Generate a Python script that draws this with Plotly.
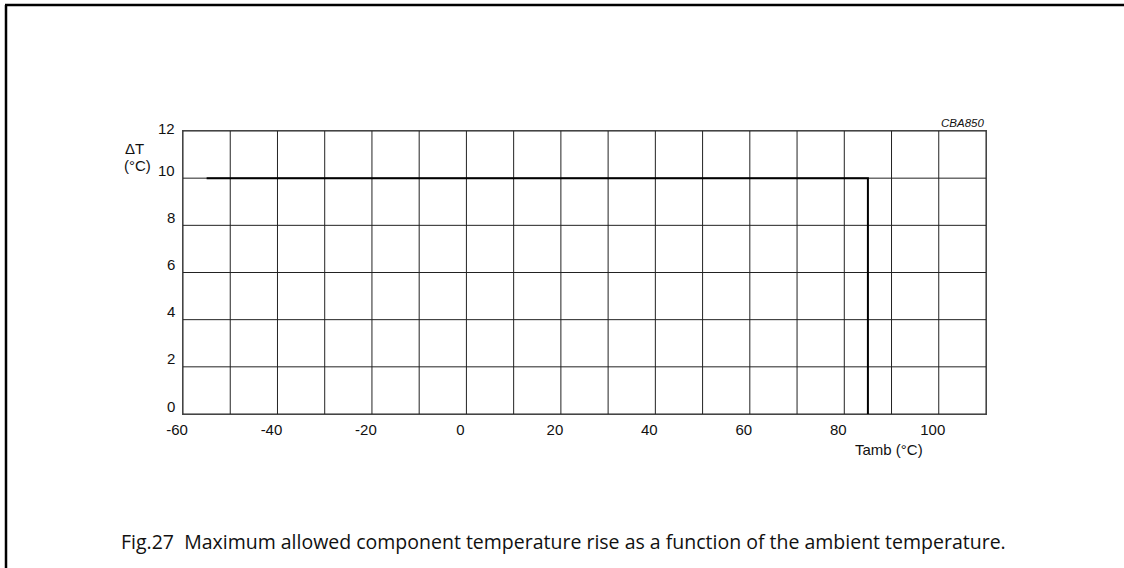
import plotly.graph_objects as go

temp_x = [-55, 85, 85]
rise_y = [10, 10, 0]
x_ticks = [-60, -40, -20, 0, 20, 40, 60, 80, 100]
y_ticks = [0, 2, 4, 6, 8, 10, 12]
x_grid = list(range(-60, 111, 10))

fig = go.Figure()
fig.add_trace(go.Scatter(x=temp_x, y=rise_y, mode="lines",
                         line=dict(color="black", width=2), showlegend=False,
                         hoverinfo="skip"))

axis_font = dict(family="Liberation Sans, Arial, sans-serif", size=15, color="#111")

fig.update_layout(
    width=1124, height=568,
    margin=dict(l=183, r=138, t=131, b=154),
    paper_bgcolor="white", plot_bgcolor="white",
    font=axis_font,
    xaxis=dict(range=[-60, 110], tickvals=x_ticks, ticktext=[str(v) for v in x_ticks],
               showgrid=False, zeroline=False, showline=True, linecolor="#444", linewidth=1,
               mirror=True, ticks="", tickfont=axis_font, tickangle=0, ticklabelshift=-6,
               ticklabelstandoff=2, fixedrange=True),
    yaxis=dict(range=[0, 12], tickvals=y_ticks, showticklabels=False,
               showgrid=False, zeroline=False, showline=True, linecolor="#444", linewidth=1,
               mirror=True, ticks="", fixedrange=True),
)

W, H = 803, 283
def px(xp):
    return (xp - 183) / W
def py(yp):
    return (414 - yp) / H

shapes = []
for gx in x_grid:
    shapes.append(dict(type="line", xref="x", yref="y", x0=gx, x1=gx, y0=0, y1=12,
                       line=dict(color="#222", width=1), layer="below"))
for gy in y_ticks:
    shapes.append(dict(type="line", xref="x", yref="y", x0=-60, x1=110, y0=gy, y1=gy,
                       line=dict(color="#222", width=1), layer="below"))
# page frame (left and top edges)
shapes.append(dict(type="line", xref="paper", yref="paper", x0=px(6), x1=px(6), y0=py(568), y1=py(5),
                   line=dict(color="black", width=2.5)))
shapes.append(dict(type="line", xref="paper", yref="paper", x0=px(5), x1=px(1124), y0=py(5), y1=py(5),
                   line=dict(color="black", width=2.5)))
fig.update_layout(shapes=shapes)

# y tick labels (placed just above each gridline, right-aligned left of the axis)
for v in y_ticks:
    fig.add_annotation(xref="paper", yref="y", x=px(177), y=v, text=str(v),
                       xanchor="right", yanchor="middle", yshift=(3 if v == 12 else 8),
                       showarrow=False, font=axis_font)

ann = [
    dict(text="ΔT", x=px(134), y=py(148), xanchor="center", yanchor="middle"),
    dict(text="(°C)", x=px(153), y=py(165), xanchor="right", yanchor="middle"),
    dict(text="Tamb (°C)", x=px(889), y=py(449), xanchor="center", yanchor="middle"),
    dict(text="<i>CBA850</i>", x=px(986), y=py(123), xanchor="right", yanchor="middle",
         font=dict(family="Liberation Sans, Arial, sans-serif", size=11.5, color="#111")),
    dict(text="Fig.27  Maximum allowed component temperature rise as a function of the ambient temperature.",
         x=px(119), y=py(541), xanchor="left", yanchor="middle",
         font=dict(family="Open Sans, sans-serif", size=19.5, color="#111")),
]
for a in ann:
    a.setdefault("font", axis_font)
    fig.add_annotation(xref="paper", yref="paper", showarrow=False, **a)

fig.write_html("out.html", config={"displayModeBar": False},
               post_script="document.body.style.margin='0';")
